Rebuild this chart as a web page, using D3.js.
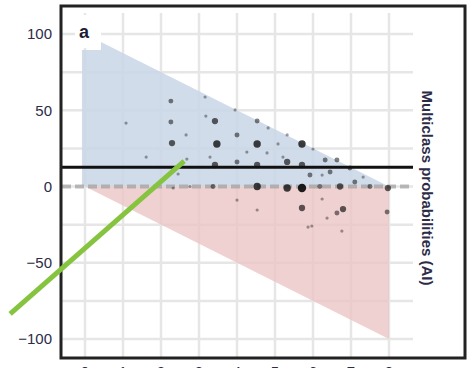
<!DOCTYPE html>
<html>
<head>
<meta charset="utf-8">
<script src="https://cdn.jsdelivr.net/npm/d3@7"></script>
<style>
  body { margin: 0; background: #fff; }
  svg { display: block; font-family: "Liberation Sans", Arial, sans-serif; }
</style>
</head>
<body>
<svg id="chart" width="467" height="368"></svg>
<script>
// data
var xTicks = [0, 1, 2, 3, 4, 5, 6, 7, 8];
var yTicks = [100, 50, 0, -50, -100];
var yGrid = [100, 75, 50, 25, 0, -25, -50, -75, -100];
var meanLine = 12.6;
var upperArea = [[-0.08, 0], [-0.08, 89.5], [0.42, 89.5], [0.42, 94.7], [8, 0]];
var lowerArea = [[0, 0], [8, 0], [8, -100]];
var trendLine = [[-1.97, -83.6], [2.61, 16.7]];

var ptX = [1.08, 2.26, 2.26, 2.29, 2.66, 1.61, 2.68, 2.45, 3.16, 3.42, 3.18, 3.95, 4.53, 4.82,
  4.0, 5.32, 3.47, 4.53, 5.08, 5.71, 3.29, 4.26, 4.79, 5.21, 3.42, 4.0, 4.53, 5.32, 5.71,
  2.32, 2.76, 3.37, 4.53, 5.32, 5.71, 4.0, 4.53, 5.71, 5.87, 6.0, 6.63, 7.32, 6.24, 6.71,
  7.97, 6.24, 6.79, 6.63, 6.37, 5.97, 6.76, 7.95, 6.32, 6.45, 6.97, 7.1, 6.18, 7.5, 5.92];
var ptY = [41.6, 56, 42.3, 28.5, 33.8, 19.3, 18, 8.2, 58.7, 42.9, 46.2, 50.2, 42.9, 38.4,
  33.8, 33.8, 27.9, 27.9, 27.9, 27.9, 19.3, 22.6, 22, 19.3, 14.1, 16.1, 14.1, 16.1, 14.1,
  -1, 0, 0, 0, -1, -1, -8.9, -15.4, -14.1, -26.6, 24.6, 17.4, 6.2, 7.5, 0,
  -1, -8.2, -14.8, -17.4, -20.7, -25.9, -29.2, -16.7, 17.4, 9.5, 12.1, 3, 0, 0, 7.5];
var ptN = [1, 2, 2, 3, 1, 1, 1, 1, 1, 3, 1, 1, 2, 1,
  2, 1, 4, 4, 1, 4, 1, 1, 1, 1, 3, 2, 3, 3, 3,
  1, 1, 2, 4, 4, 5, 1, 1, 3, 1, 1, 2, 1, 1, 3,
  3, 1, 3, 2, 1, 1, 1, 2, 2, 2, 2, 2, 2, 2, 2];

var points = ptX.map(function(d, i) { return {x: d, y: ptY[i], n: ptN[i]}; });

var frame = {left: 61, top: 6, right: 465, bottom: 358};

var x = d3.scaleLinear().domain([0, 8]).range([85, 389]);
var y = d3.scaleLinear().domain([0, 100]).range([186.5, 34]);
var r = d3.scaleSqrt().domain([1, 5]).range([1.6, 4.2]);
var op = d3.scaleLinear().domain([1, 5]).range([0.4, 0.95]);

var svg = d3.select("#chart");
var gridRight = 413;

// grid
svg.append("g").selectAll("line")
  .data(xTicks)
  .enter().append("line")
  .attr("x1", function(d) { return x(d); })
  .attr("x2", function(d) { return x(d); })
  .attr("y1", 13)
  .attr("y2", frame.bottom)
  .attr("stroke", "#e6e6e6")
  .attr("stroke-width", 2.5);

svg.append("g").selectAll("line")
  .data(yGrid)
  .enter().append("line")
  .attr("x1", frame.left)
  .attr("x2", gridRight)
  .attr("y1", function(d) { return y(d); })
  .attr("y2", function(d) { return y(d); })
  .attr("stroke", "#e6e6e6")
  .attr("stroke-width", 2.5);

// panel label box
svg.append("rect")
  .attr("x", 75).attr("y", 15).attr("width", 26).attr("height", 33)
  .attr("fill", "#fff");

var area = d3.line()
  .x(function(d) { return x(d[0]); })
  .y(function(d) { return y(d[1]); });

svg.append("path")
  .attr("d", area(upperArea) + "Z")
  .attr("fill", "#c9d6e8")
  .attr("fill-opacity", 0.85);

svg.append("path")
  .attr("d", area(lowerArea) + "Z")
  .attr("fill", "#ecc6c6")
  .attr("fill-opacity", 0.8);

// zero line
svg.append("line")
  .attr("x1", frame.left + 1).attr("x2", gridRight)
  .attr("y1", y(0)).attr("y2", y(0))
  .attr("stroke", "#9a9a9a")
  .attr("stroke-opacity", 0.65)
  .attr("stroke-width", 4)
  .attr("stroke-dasharray", "9,4");

// points
svg.append("g").selectAll("circle")
  .data(points)
  .enter().append("circle")
  .attr("cx", function(d) { return x(d.x); })
  .attr("cy", function(d) { return y(d.y); })
  .attr("r", function(d) { return r(d.n); })
  .attr("fill", "#111")
  .attr("fill-opacity", function(d) { return op(d.n); });

// mean line
svg.append("line")
  .attr("x1", frame.left + 1).attr("x2", gridRight)
  .attr("y1", y(meanLine)).attr("y2", y(meanLine))
  .attr("stroke", "#111")
  .attr("stroke-width", 3);

// frame
svg.append("rect")
  .attr("x", frame.left).attr("y", frame.top)
  .attr("width", frame.right - frame.left)
  .attr("height", frame.bottom - frame.top)
  .attr("fill", "none")
  .attr("stroke", "#222")
  .attr("stroke-width", 3);

// y axis labels
svg.append("g").selectAll("text")
  .data(yTicks)
  .enter().append("text")
  .attr("x", 52)
  .attr("y", function(d) { return y(d); })
  .attr("dy", "0.36em")
  .attr("text-anchor", "end")
  .attr("font-size", 15)
  .attr("fill", "#2c2c48")
  .text(function(d) { return d < 0 ? "\u2212" + Math.abs(d) : d; });

// x axis labels: only their tops fall inside the window, as in the source
svg.append("g").selectAll("text")
  .data(xTicks)
  .enter().append("text")
  .attr("x", function(d) { return x(d); })
  .attr("y", 377)
  .attr("text-anchor", "middle")
  .attr("font-size", 15)
  .attr("fill", "#2c2c48")
  .text(function(d) { return d; });

svg.append("text")
  .attr("x", 79).attr("y", 38)
  .attr("font-size", 18)
  .attr("font-weight", "bold")
  .attr("fill", "#1d1d33")
  .text("a");

svg.append("text")
  .attr("transform", "translate(422,188) rotate(90)")
  .attr("text-anchor", "middle")
  .attr("font-size", 15)
  .attr("font-weight", "bold")
  .attr("fill", "#2c2c48")
  .text("Multiclass probabilities (AI)");

// annotation
svg.append("path")
  .attr("d", area(trendLine))
  .attr("stroke", "#86c440")
  .attr("stroke-width", 5)
  .attr("fill", "none");
</script>
</body>
</html>
